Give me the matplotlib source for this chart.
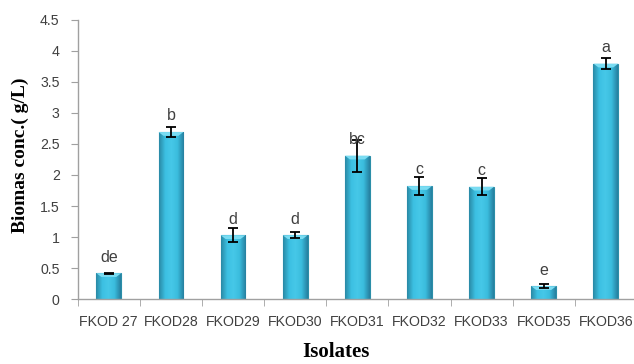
import numpy as np
import matplotlib.pyplot as plt
from matplotlib.colors import LinearSegmentedColormap
from matplotlib.patches import Polygon

isolates = ['FKOD 27', 'FKOD28', 'FKOD29', 'FKOD30', 'FKOD31',
            'FKOD32', 'FKOD33', 'FKOD35', 'FKOD36']
biomass = [0.42, 2.69, 1.03, 1.03, 2.31, 1.82, 1.81, 0.21, 3.79]
errors = [0.01, 0.08, 0.11, 0.05, 0.26, 0.15, 0.14, 0.03, 0.085]
groups = ['de', 'b', 'd', 'd', 'bc', 'c', 'c', 'e', 'a']

fig = plt.figure(figsize=(6.34, 3.64), dpi=100)
ax = fig.add_axes([0.1226, 0.1777, 0.882, 0.7687])

x = np.arange(len(isolates))
width = 0.4
bars = ax.bar(x, biomass, width=width, color='#38B9DB',
              edgecolor='#2B8EA8', linewidth=0.8, zorder=2)

# cylinder-like shading across each bar
shade = LinearSegmentedColormap.from_list(
    'shade', ['#2A8AA6', '#3CC0E2', '#46C8E8', '#3ABCDD', '#2680A0'])
grad = np.linspace(0, 1, 64).reshape(1, -1)
for b in bars:
    x0, w, h = b.get_x(), b.get_width(), b.get_height()
    im = ax.imshow(grad, cmap=shade, aspect='auto',
                   extent=[x0, x0 + w, 0, h], zorder=2.1)
    im.set_clip_path(b)
    # light bevel at the top
    bev = 0.06
    tri = Polygon([[x0, h], [x0 + w, h], [x0 + w * 0.8, h - bev],
                   [x0 + w * 0.2, h - bev]], closed=True,
                  facecolor='#7ADCF2', edgecolor='none', zorder=2.2)
    ax.add_patch(tri)

ax.errorbar(x, biomass, yerr=errors, fmt='none', ecolor='black',
            elinewidth=1.3, capsize=3.5, capthick=1.3, zorder=3)

# significance letters sit a fixed distance above each bar
for xi, v, g in zip(x, biomass, groups):
    ax.text(xi, v + 0.26, g, ha='center', va='center',
            fontsize=11.5, color='#404040', family='Liberation Sans', zorder=4)

ax.set_xlim(-0.5, len(isolates) - 0.5)
ax.set_ylim(0, 4.5)
ax.set_yticks(np.arange(0, 4.51, 0.5))
ax.set_yticklabels(['0', '0.5', '1', '1.5', '2', '2.5', '3', '3.5', '4', '4.5'])
ax.set_xticks(x)
ax.set_xticklabels(isolates)
ax.set_xticks(np.arange(-0.5, len(isolates), 1), minor=True)
ax.tick_params(axis='x', which='major', length=0, pad=11)
ax.tick_params(axis='x', which='minor', length=5, color='#A0A0A0')
ax.tick_params(axis='y', length=5, color='#A0A0A0', pad=8)
for lab in ax.get_xticklabels() + ax.get_yticklabels():
    lab.set_fontsize(10.2)
    lab.set_color('#404040')
    lab.set_family('Liberation Sans')

for s in ['top', 'right']:
    ax.spines[s].set_visible(False)
for s in ['left', 'bottom']:
    ax.spines[s].set_color('#A0A0A0')
    ax.spines[s].set_linewidth(1.0)

fig.text(0.032, 0.573, 'Biomas conc.( g/L)', rotation=90, ha='center',
         va='center', fontsize=14, fontweight='bold', family='Liberation Serif')
fig.text(0.53, 0.005, 'Isolates', ha='center', va='bottom',
         fontsize=15, fontweight='bold', family='Liberation Serif')

fig.savefig('out.png', dpi=100)
